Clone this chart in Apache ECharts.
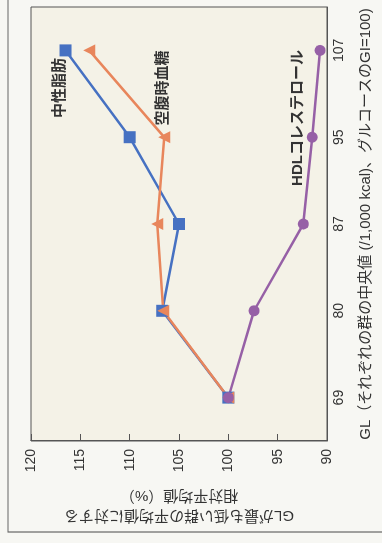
<!DOCTYPE html>
<html>
<head>
<meta charset="utf-8">
<script src="https://cdn.jsdelivr.net/npm/echarts@6/dist/echarts.min.js"></script>
<style>
  html, body { margin: 0; padding: 0; width: 382px; height: 543px; overflow: hidden; background: #f7f7f3; }
  /* chart is drawn upright (543x382) and then turned a quarter turn to the left */
  #chart {
    position: absolute; left: 0; top: 0;
    width: 543px; height: 382px;
    transform-origin: 0 0;
    transform: rotate(-90deg) translate(-543px, 0);
  }
</style>
</head>
<body>
<div id="chart"></div>
<script>
const categories = ['69', '80', '87', '95', '107'];
const triglyceride = [100, 106.7, 105.0, 110.0, 116.5];
const fastingGlucose = [100, 106.6, 107.2, 106.5, 114.1];
const hdl = [100, 97.4, 92.4, 91.5, 90.7];

const FONT = "'Liberation Sans', 'Noto Sans CJK JP', sans-serif";
const AXIS = '#555';

const chart = echarts.init(document.getElementById('chart'));

const lineSeries = (name, data, color, symbol, size) => ({
  name, type: 'line', data,
  symbol, symbolSize: size,
  lineStyle: { color, width: 2.5 },
  itemStyle: { color },
  animation: false,
});

chart.setOption({
  backgroundColor: '#f7f7f3',
  grid: {
    left: 102, right: 7, top: 31, bottom: 55,
    show: true, backgroundColor: '#f4f2e7', borderColor: AXIS, borderWidth: 1,
  },
  xAxis: {
    type: 'category',
    data: categories,
    boundaryGap: true,
    axisLine: { lineStyle: { color: AXIS } },
    axisTick: { inside: true, length: 7, lineStyle: { color: AXIS } },
    axisLabel: { color: '#333', fontSize: 14, fontFamily: FONT, margin: 5 },
    name: 'GL（それぞれの群の中央値 (/1,000 kcal)、グルコースのGI=100)',
    nameLocation: 'middle',
    nameGap: 31,
    nameTextStyle: { color: '#333', fontSize: 15, fontFamily: FONT },
  },
  yAxis: {
    type: 'value',
    min: 90, max: 120, interval: 5,
    axisLine: { show: true, lineStyle: { color: AXIS } },
    axisTick: { show: true, inside: true, length: 7, lineStyle: { color: AXIS } },
    splitLine: { show: false },
    axisLabel: { color: '#333', fontSize: 14, fontFamily: FONT, margin: 8 },
    name: 'GLが最も低い群の平均値に対する\n相対平均値（%）',
    nameLocation: 'middle',
    nameGap: 44,
    nameTextStyle: { color: '#333', fontSize: 15, fontFamily: FONT, lineHeight: 20 },
  },
  graphic: [
    { type: 'rect', shape: { x: 11, y: 8, width: 600, height: 450 },
      style: { fill: 'none', stroke: '#666', lineWidth: 1.2 }, silent: true },
    { type: 'text', x: 455, y: 60,
      style: { text: '中性脂肪', font: 'bold 15px ' + FONT, fill: '#333', textAlign: 'center', textVerticalAlign: 'middle' } },
    { type: 'text', x: 455, y: 163,
      style: { text: '空腹時血糖', font: 'bold 15px ' + FONT, fill: '#333', textAlign: 'center', textVerticalAlign: 'middle' } },
    { type: 'text', x: 425, y: 298,
      style: { text: 'HDLコレステロール', font: 'bold 15px ' + FONT, fill: '#333', textAlign: 'center', textVerticalAlign: 'middle' } },
  ],
  series: [
    lineSeries('中性脂肪', triglyceride, '#4671c2', 'rect', 12),
    lineSeries('空腹時血糖', fastingGlucose, '#e8865c', 'triangle', 12),
    lineSeries('HDLコレステロール', hdl, '#9660a6', 'circle', 11),
  ],
});
</script>
</body>
</html>
